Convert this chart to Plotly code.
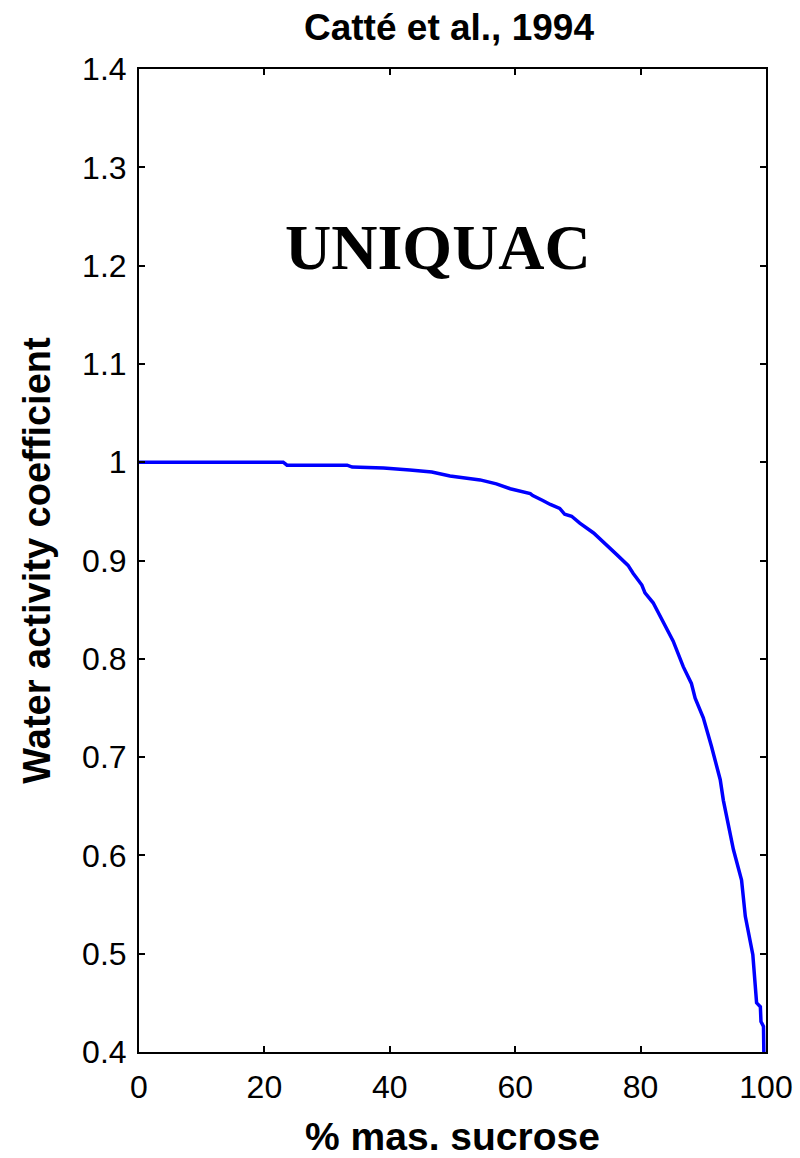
import plotly.graph_objects as go

# UNIQUAC water activity coefficient vs. sucrose mass percentage
sucrose_pct = [0, 23.0, 23.6, 33.2, 34.0, 39.0, 43.2, 46.7, 49.6, 53.0, 54.4, 57.0,
               59.2, 62.4, 62.8, 64.4, 65.6, 67.1, 67.9, 69.0, 70.3, 72.5, 74.6,
               76.2, 78.0, 78.8, 80.2, 80.7, 82.0, 83.6, 85.2, 86.8, 88.1, 88.7,
               90.0, 91.3, 92.7, 93.2, 94.8, 96.1, 96.7, 97.9, 98.5, 99.1, 99.2,
               99.6, 99.7]
water_gamma = [1.000, 1.000, 0.997, 0.997, 0.995, 0.994, 0.992, 0.990, 0.986, 0.983,
               0.982, 0.978, 0.973, 0.968, 0.966, 0.961, 0.957, 0.953, 0.947, 0.945,
               0.938, 0.928, 0.916, 0.906, 0.895, 0.887, 0.875, 0.867, 0.857, 0.838,
               0.818, 0.792, 0.775, 0.760, 0.740, 0.711, 0.677, 0.656, 0.606, 0.575,
               0.538, 0.499, 0.450, 0.446, 0.431, 0.426, 0.380]

x_ticks = [0, 20, 40, 60, 80, 100]
y_ticks = [0.4, 0.5, 0.6, 0.7, 0.8, 0.9, 1.0, 1.1, 1.2, 1.3, 1.4]
y_tick_text = ["0.4", "0.5", "0.6", "0.7", "0.8", "0.9", "1", "1.1", "1.2", "1.3", "1.4"]

SANS = "Liberation Sans, Arial, sans-serif"

fig = go.Figure()
fig.add_trace(go.Scatter(
    x=sucrose_pct, y=water_gamma, mode="lines",
    line=dict(color="#0000FF", width=3.5),
    showlegend=False,
))

axis_common = dict(
    showline=True, linecolor="black", linewidth=2, mirror="ticks",
    ticks="inside", ticklen=6, tickwidth=2, tickcolor="black",
    showgrid=False, zeroline=False, automargin=False,
    tickfont=dict(family=SANS, size=32, color="black"),
)

fig.update_xaxes(
    range=[0, 100], tickvals=x_ticks, ticktext=[str(v) for v in x_ticks],
    ticklabelstandoff=6,
    title=dict(text="<b>% mas. sucrose</b>", standoff=19,
               font=dict(family=SANS, size=39, color="black")),
    **axis_common,
)
fig.update_yaxes(
    range=[0.4, 1.4], tickvals=y_ticks, ticktext=y_tick_text,
    ticklabelstandoff=4,
    title=dict(text="<b>Water activity coefficient</b>", standoff=20,
               font=dict(family=SANS, size=38, color="black")),
    **axis_common,
)

fig.add_annotation(
    x=0.477, y=1.218, xref="paper", yref="y", showarrow=False,
    text="<b>UNIQUAC</b>",
    font=dict(family="Liberation Serif, Times New Roman, serif", size=64, color="black"),
)

fig.update_layout(
    width=800, height=1158,
    margin=dict(l=139, r=34, t=69, b=106),
    paper_bgcolor="white", plot_bgcolor="white",
    title=dict(text="<b>Catté et al., 1994</b>", x=449 / 800, xanchor="center",
               y=1 - 27 / 1158, yanchor="middle",
               font=dict(family=SANS, size=37, color="black")),
)

fig.write_html("out.html")
